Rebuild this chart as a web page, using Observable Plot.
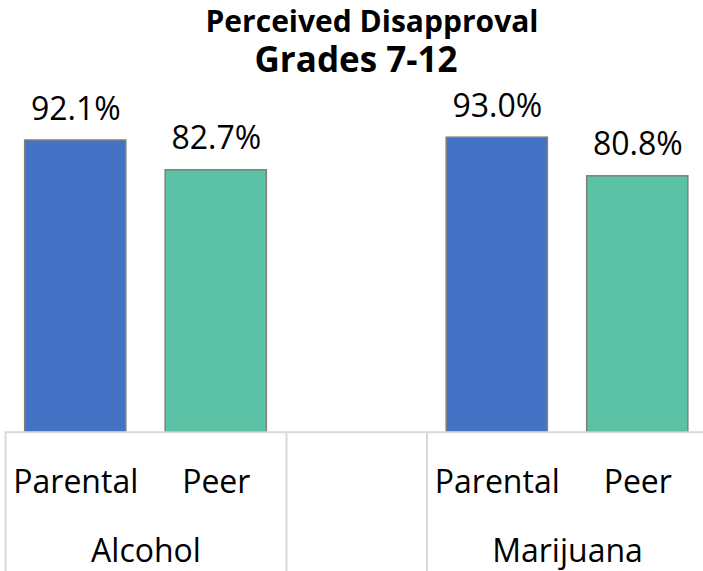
<!DOCTYPE html>
<html>
<head>
<meta charset="utf-8">
<script src="https://cdn.jsdelivr.net/npm/d3@7"></script>
<script src="https://cdn.jsdelivr.net/npm/@observablehq/plot@0.6"></script>
<style>
  html, body { margin: 0; padding: 0; background: #fff; }
  #wrap { position: relative; width: 703px; height: 571px; overflow: hidden; font-family: "Open Sans", sans-serif; }
  .title { position: absolute; white-space: nowrap; font-weight: 700; color: #000; transform: translateX(-50%); }
  #t1 { left: 372px; top: 0px; font-size: 30px; line-height: 41px; }
  #t2 { left: 356px; top: 39px; font-size: 35px; line-height: 40px; }
  #chart { position: absolute; left: 0; top: 80px; }
</style>
</head>
<body>
<div id="wrap">
  <div class="title" id="t1">Perceived Disapproval</div>
  <div class="title" id="t2">Grades 7-12</div>
  <div id="chart"></div>
</div>
<script>
// Substances (category groups) and the two sources of disapproval within each
const substances = ["Alcohol", "Marijuana"];
const sources = ["Parental", "Peer"];
// Percent of students perceiving disapproval, by source
const alcoholValues = [92.1, 82.7];
const marijuanaValues = [93.0, 80.8];

const sourceColors = ["#4472c4", "#5cc2a5"];

// Each group takes two slots, with one empty slot between the groups
const groupValues = [alcoholValues, marijuanaValues];
const rows = [];
substances.forEach((substance, g) => {
  sources.forEach((source, s) => {
    rows.push({substance, source, value: groupValues[g][s], slot: g * 3 + s});
  });
});
const slotCount = substances.length * 3 - 1;
const groups = substances.map((substance, g) => ({substance, center: g * 3 + 0.5}));
const separators = [-0.5, 1.5, 2.5, slotCount - 0.5];
const halfBar = 0.36;
const yFloor = -44; // room below the baseline for the category labels

const fmt = d => d.toFixed(1) + "%";

const chart = Plot.plot({
  width: 703,
  height: 491,
  marginTop: 35,
  marginBottom: 0,
  marginLeft: 0,
  marginRight: 0,
  x: {type: "linear", domain: [-0.5, slotCount - 0.5], range: [5, 707.5], axis: null},
  y: {domain: [yFloor, 100], axis: null},
  color: {domain: sources, range: sourceColors},
  style: {fontFamily: "Open Sans, sans-serif", background: "transparent", overflow: "visible"},
  marks: [
    Plot.rectY(rows, {
      x1: d => d.slot - halfBar,
      x2: d => d.slot + halfBar,
      y1: 0,
      y2: "value",
      fill: "source",
      stroke: "#7f7f7f",
      strokeWidth: 1.5
    }),
    Plot.ruleY([0], {x1: -0.5, x2: slotCount - 0.5, stroke: "#d9d9d9", strokeWidth: 2}),
    Plot.ruleX(separators, {x: d => d, y1: 0, y2: yFloor, stroke: "#d9d9d9", strokeWidth: 2}),
    Plot.text(rows, {
      x: "slot",
      y: "value",
      text: d => fmt(d.value),
      lineAnchor: "bottom",
      dy: -21,
      fontSize: 32,
      fill: "#000"
    }),
    Plot.text(rows, {
      x: "slot",
      y: 0,
      text: "source",
      lineAnchor: "bottom",
      dy: 61,
      fontSize: 32,
      fill: "#000"
    }),
    Plot.text(groups, {
      x: "center",
      y: 0,
      text: "substance",
      lineAnchor: "bottom",
      dy: 130,
      fontSize: 32,
      fill: "#000"
    })
  ]
});

document.getElementById("chart").appendChild(chart);
</script>
</body>
</html>
